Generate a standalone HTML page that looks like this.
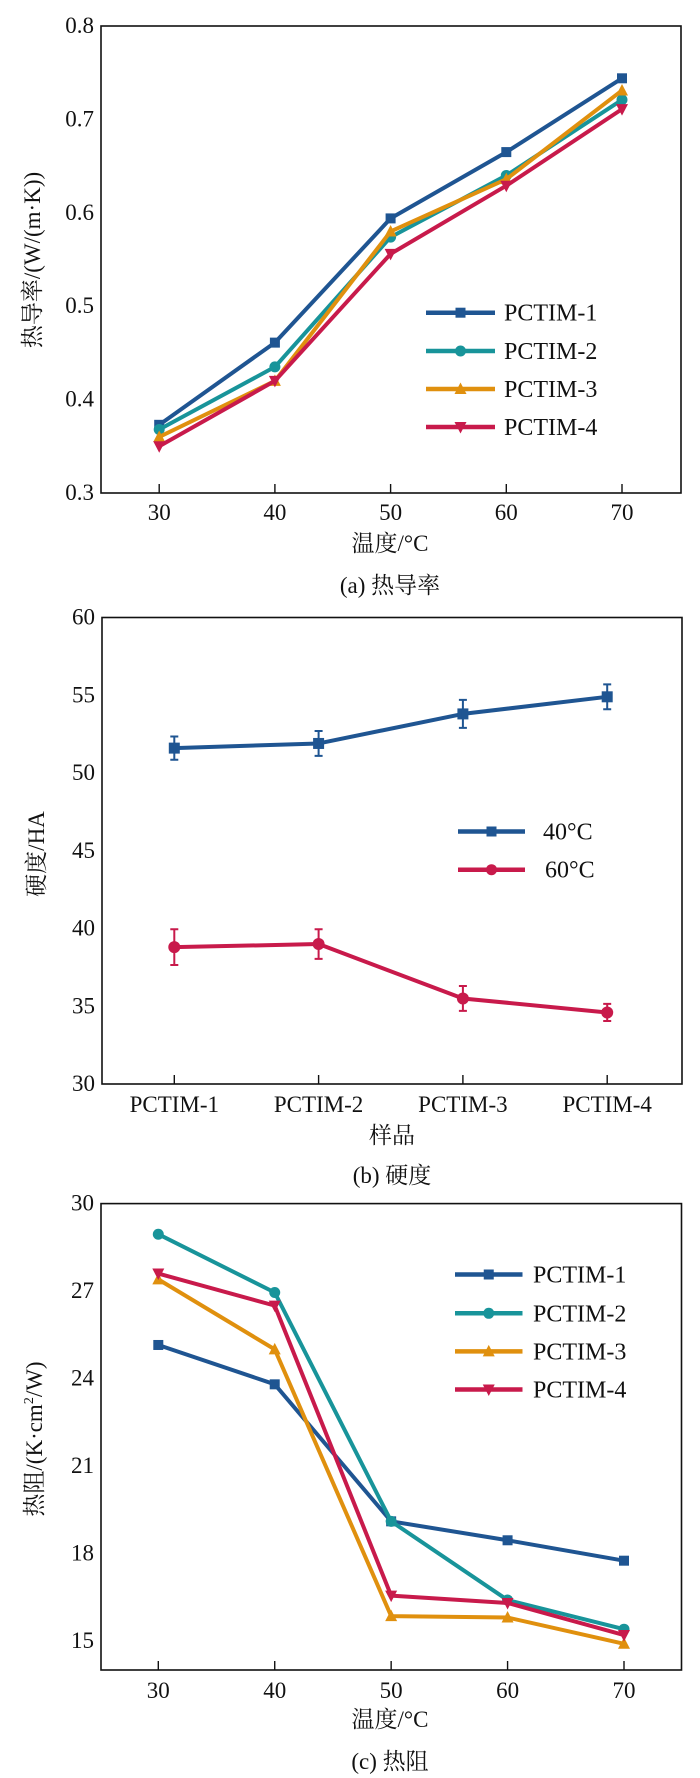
<!DOCTYPE html>
<html><head><meta charset="utf-8"><style>
html,body{margin:0;padding:0;background:#fff;}
svg{display:block;font-family:"Liberation Serif","Noto Serif CJK SC",serif;}
</style></head><body>
<svg id="fig" width="700" height="1778" viewBox="0 0 700 1778" xmlns="http://www.w3.org/2000/svg"></svg>
<script>
// ---- data ----
const tempCats = [30, 40, 50, 60, 70];
const seriesNames = ["PCTIM-1", "PCTIM-2", "PCTIM-3", "PCTIM-4"];
const condA1 = [0.373, 0.461, 0.594, 0.665, 0.744];
const condA2 = [0.368, 0.435, 0.574, 0.640, 0.721];
const condA3 = [0.360, 0.420, 0.580, 0.636, 0.731];
const condA4 = [0.350, 0.420, 0.556, 0.629, 0.711];
const ticksA = [0.3, 0.4, 0.5, 0.6, 0.7, 0.8];
const hardCats = ["PCTIM-1", "PCTIM-2", "PCTIM-3", "PCTIM-4"];
const hardNames = ["40°C", "60°C"];
const hard40 = [51.6, 51.9, 53.8, 54.9];
const hard40Err = [0.75, 0.8, 0.9, 0.8];
const hard60 = [38.8, 39.0, 35.5, 34.6];
const hard60Err = [1.15, 0.95, 0.8, 0.55];
const ticksB = [30, 35, 40, 45, 50, 55, 60];
const resC1 = [25.15, 23.8, 19.1, 18.45, 17.75];
const resC2 = [28.95, 26.95, 19.1, 16.4, 15.4];
const resC3 = [27.4, 25.0, 15.85, 15.8, 14.9];
const resC4 = [27.6, 26.5, 16.55, 16.3, 15.2];
const ticksC = [15, 18, 21, 24, 27, 30];

const COLORS = ["#1f5592", "#18949a", "#e0900e", "#c81a4b"];
const MARKERS = ["square", "circle", "up", "down"];
const NS = "http://www.w3.org/2000/svg";
const svg = document.getElementById("fig");

function mk(tag, attrs, parent, text) {
  const e = document.createElementNS(NS, tag);
  for (const k in attrs) e.setAttribute(k, attrs[k]);
  if (text !== undefined) e.textContent = text;
  (parent || svg).appendChild(e);
  return e;
}
function marker(g, type, x, y, color, r) {
  let m;
  if (type === "square") m = mk("rect", {x: x - r, y: y - r, width: 2 * r, height: 2 * r, fill: color}, g);
  else if (type === "circle") m = mk("circle", {cx: x, cy: y, r: r + 0.5, fill: color}, g);
  else if (type === "up") m = mk("polygon", {points: `${x},${y - r - 1.5} ${x - r - 1},${y + r} ${x + r + 1},${y + r}`, fill: color}, g);
  else m = mk("polygon", {points: `${x},${y + r + 1.5} ${x - r - 1},${y - r} ${x + r + 1},${y - r}`, fill: color}, g);
  return m;
}
function frame(name, L, R, T, B) {
  const f = mk("rect", {x: L, y: T, width: R - L, height: B - T, fill: "none", stroke: "#111", "stroke-width": 1.6});
  
  
}
function yAxis(name, ticks, ys, L, fmt) {
  const g = mk("g", {});
  
  
  ticks.forEach(t => {
    const y = ys(t);
    const lbl = mk("text", {x: L - 7, y: y + 7, "text-anchor": "end", "font-size": 23, fill: "#111"}, g, fmt(t));
    
    
  });
}
function xAxis(name, cats, xs, B, labelY) {
  const g = mk("g", {});
  
  
  cats.forEach((c, i) => {
    const x = xs(i);
    mk("line", {x1: x, x2: x, y1: B, y2: B - 9, stroke: "#111", "stroke-width": 1.4}, g);
    const lbl = mk("text", {x: x, y: labelY, "text-anchor": "middle", "font-size": 23, fill: "#111"}, g, String(c));
    
    
  });
}
function text(name, x, y, s, size, rot) {
  const t = mk("text", {x: x, y: y, "text-anchor": "middle", "font-size": size, fill: "#111"}, svg, s);
  if (rot) t.setAttribute("transform", `rotate(-90 ${x} ${y})`);
  
  
  return t;
}
function series(name, vals, xs, ys, color, mtype, r) {
  const g = mk("g", {});
  
  
  const pts = vals.map((v, i) => `${xs(i)},${ys(v)}`).join(" ");
  mk("polyline", {points: pts, fill: "none", stroke: color, "stroke-width": 4, "stroke-linejoin": "round"}, g);
  vals.forEach((v, i) => {
    const m = marker(g, mtype, xs(i), ys(v), color, r);
    
    
  });
  return g;
}
function legendEntry(x1, x2, tx, y, color, mtype, label) {
  const g = mk("g", {});
  
  
  mk("line", {x1: x1, x2: x2, y1: y, y2: y, stroke: color, "stroke-width": 4.5}, g);
  marker(g, mtype, (x1 + x2) / 2, y, color, 5);
  mk("text", {x: tx, y: y + 8, "font-size": 24, fill: "#111"}, g, label);
}

// ---- chart (a) ----
(function () {
  const L = 101, R = 681, T = 26, B = 493;
  const yMin = 0.3, yMax = 0.8;
  const ys = v => B - (v - yMin) / (yMax - yMin) * (B - T);
  const xs = i => 159.2 + (tempCats[i] - 30) / 40 * (622 - 159.2);
  frame("conductivity", L, R, T, B);
  yAxis("conductivity", ticksA, ys, L, t => t.toFixed(1));
  xAxis("conductivity", tempCats, xs, B, 520);
  [condA1, condA2, condA3, condA4].forEach((s, k) => series("conductivity-" + seriesNames[k].toLowerCase(), s, xs, ys, COLORS[k], MARKERS[k], 5));
  [312.7, 351, 389, 427].forEach((y, k) => legendEntry(426, 495, 504, y, COLORS[k], MARKERS[k], seriesNames[k]));
  text("conductivity-x-axis-title", 390, 551, "温度/°C", 23);
  text("conductivity-y-axis-title", 40, 260, "热导率/(W/(m·K))", 23, true);
  text("caption-a", 390, 593, "(a) 热导率", 23);
})();

// ---- chart (b) ----
(function () {
  const L = 102, R = 682, T = 617.5, B = 1084;
  const yMin = 30, yMax = 60;
  const ys = v => B - (v - yMin) / (yMax - yMin) * (B - T);
  const xs = i => 174.3 + i * (607.2 - 174.3) / 3;
  frame("hardness", L, R, T, B);
  yAxis("hardness", ticksB, ys, L, t => String(t));
  xAxis("hardness", hardCats, xs, B, 1112);
  [[hard40, hard40Err, 0, "square"], [hard60, hard60Err, 3, "circle"]].forEach(([vals, errs, c, m], k) => {
    const g = series("hardness-" + (k ? "60c" : "40c"), vals, xs, ys, COLORS[c], m, 5.5);
    vals.forEach((v, i) => {
      const x = xs(i), y1 = ys(v + errs[i]), y2 = ys(v - errs[i]);
      const e = mk("path", {d: `M${x},${y1}V${y2}M${x - 4},${y1}H${x + 4}M${x - 4},${y2}H${x + 4}`, stroke: COLORS[c], "stroke-width": 2, fill: "none"}, g);
      
      
    });
  });
  legendEntry(458, 525, 543, 831.5, COLORS[0], "square", hardNames[0]);
  legendEntry(458, 525, 545, 869.7, COLORS[3], "circle", hardNames[1]);
  text("hardness-x-axis-title", 392, 1143, "样品", 23);
  text("hardness-y-axis-title", 44, 854, "硬度/HA", 23, true);
  text("caption-b", 392, 1183, "(b) 硬度", 23);
})();

// ---- chart (c) ----
(function () {
  const L = 101, R = 681.5, T = 1203.6, B = 1670;
  const yMin = 14, yMax = 30;
  const ys = v => B - (v - yMin) / (yMax - yMin) * (B - T);
  const xs = i => 158.3 + (tempCats[i] - 30) / 40 * (624 - 158.3);
  frame("resistance", L, R, T, B);
  yAxis("resistance", ticksC, ys, L, t => String(t));
  xAxis("resistance", tempCats, xs, B, 1698);
  [resC1, resC2, resC3, resC4].forEach((s, k) => series("resistance-" + seriesNames[k].toLowerCase(), s, xs, ys, COLORS[k], MARKERS[k], 5));
  [1274.5, 1313.3, 1351.4, 1389.5].forEach((y, k) => legendEntry(455, 522.5, 533, y, COLORS[k], MARKERS[k], seriesNames[k]));
  text("resistance-x-axis-title", 390, 1727, "温度/°C", 23);
  const yt = mk("text", {x: 42, y: 1439, "text-anchor": "middle", "font-size": 23, fill: "#111", transform: "rotate(-90 42 1439)"});
  
  
  yt.textContent = "热阻/(K·cm";
  mk("tspan", {"font-size": 14, dy: -9}, yt, "2");
  mk("tspan", {dy: 9}, yt, "/W)");
  text("caption-c", 390, 1769, "(c) 热阻", 23);
})();
</script>
</body></html>
